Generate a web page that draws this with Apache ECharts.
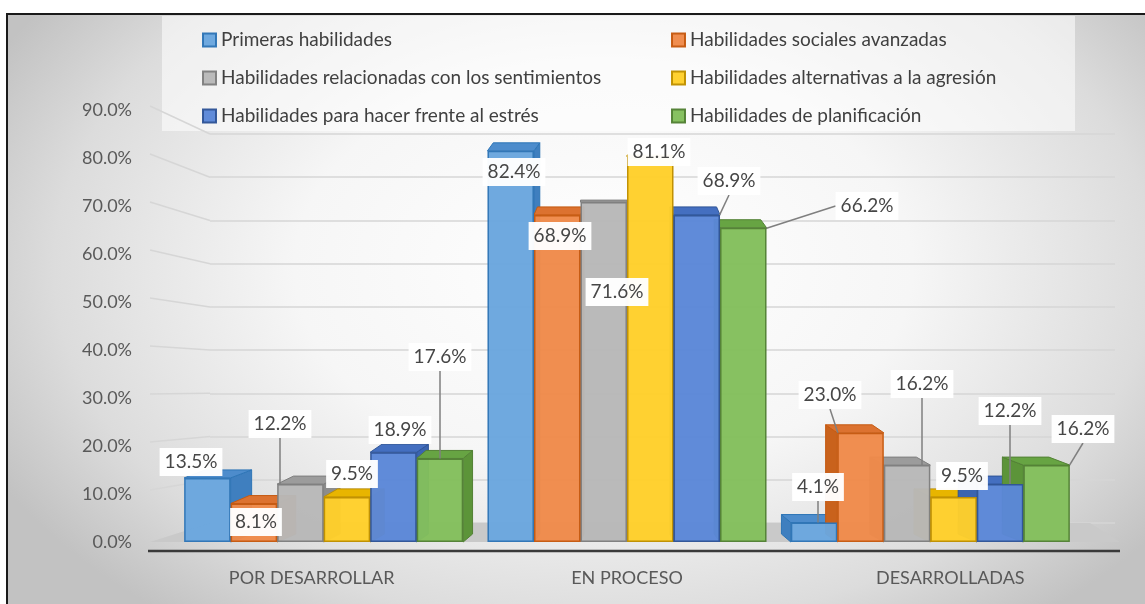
<!DOCTYPE html>
<html><head><meta charset="utf-8">
<script src="https://cdn.jsdelivr.net/npm/echarts@6.0.0/dist/echarts.min.js"></script>
<style>
html,body{margin:0;padding:0;background:#fff;width:1145px;height:604px;overflow:hidden;}
#frame{position:absolute;left:6px;top:13px;width:1145px;height:600px;border:2px solid #1a1a1a;border-right:none;border-bottom:none;
background:radial-gradient(ellipse 60% 75% at 52% 42%, #ffffff 0%, #f6f6f6 45%, #dcdcdc 80%, #c2c2c2 100%);}
#chart{position:absolute;left:0;top:0;width:1145px;height:604px;}
</style></head>
<body><div id="frame"></div><div id="chart"></div>
<script>
const categories = ['POR DESARROLLAR', 'EN PROCESO', 'DESARROLLADAS'];
const seriesNames = ['Primeras habilidades', 'Habilidades sociales avanzadas', 'Habilidades relacionadas con los sentimientos',
  'Habilidades alternativas a la agresión', 'Habilidades para hacer frente al estrés', 'Habilidades de planificación'];
const primeras = [13.5, 82.4, 4.1];
const sociales = [8.1, 68.9, 23.0];
const sentimientos = [12.2, 71.6, 16.2];
const alternativas = [9.5, 81.1, 9.5];
const estres = [18.9, 68.9, 12.2];
const planificacion = [17.6, 66.2, 16.2];
const yTicks = [0, 10, 20, 30, 40, 50, 60, 70, 80, 90];
const allValues = [primeras, sociales, sentimientos, alternativas, estres, planificacion];

// styles
const frontColors = ['#6aa6de', '#f08a4a', '#b8b8b8', '#ffcf2a', '#5b87d8', '#83bf5c'];
const borderColors = ['#2e75b6', '#c55a11', '#7f7f7f', '#bf9000', '#2f5597', '#538135'];
const sideColors = ['#3f7fbf', '#c9621c', '#8c8c8c', '#d9a400', '#3a64b0', '#5c9439'];
const topColors = ['#4d8ccc', '#dc7230', '#9c9c9c', '#e8b500', '#446fc0', '#67a443'];
// label placement (centres, px) and which labels carry a leader line
const labelCenters = [
  [[191, 462], [514, 172], [818, 487]],
  [[256, 522], [560, 236], [830, 395]],
  [[280, 424], [617, 292], [922, 384]],
  [[352, 474], [659, 152], [962, 476]],
  [[400, 430], [729, 181], [1010, 411]],
  [[440, 357], [867, 206], [1083, 429]]
];
const leaders = [[0,0,1],[0,0,1],[1,0,1],[0,0,0],[0,1,1],[1,1,1]];
const catLabelShift = [-12, 0, 20];

const GAP = 0.08, NS = 6, DEPTH = 8, PERSP = 0.05;
const FONT = 'Lato, "Open Sans", sans-serif';

const chart = echarts.init(document.getElementById('chart'));

const barSeries = allValues.map((vals, s) => ({
  name: seriesNames[s], type: 'bar', xAxisIndex: 0, yAxisIndex: 2,
  barGap: '0%', barCategoryGap: (GAP * 100) + '%', z: 3,
  itemStyle: { color: frontColors[s], borderColor: borderColors[s], borderWidth: 1.5, opacity: 0.97 },
  data: vals.map((v, i) => ({ value: v, labelLine: { show: !!leaders[s][i] } })),
  label: {
    show: true, position: 'top', formatter: p => p.value.toFixed(1) + '%',
    backgroundColor: '#ffffff', padding: [5, 5, 4, 5], color: '#404040', fontSize: 19, fontFamily: FONT
  },
  labelLine: { show: false, lineStyle: { color: '#7f7f7f', width: 1.5 } },
  labelLayout: p => {
    const c = labelCenters[s][p.dataIndex];
    return { x: c[0], y: c[1], align: 'center', verticalAlign: 'middle' };
  }
}));

const depthSeries = allValues.map((vals, s) => ({
  name: seriesNames[s], type: 'custom', xAxisIndex: 0, yAxisIndex: 2, silent: true, z: 2,
  data: vals.map((v, i) => [i, v]),
  renderItem: (params, api) => {
    const ci = api.value(0), v = api.value(1);
    const top = api.coord([ci, v]);
    const base = api.coord([ci, 0]);
    const band = api.size([1, 0])[0];
    const group = band * (1 - GAP), bw = group / NS;
    const x0 = top[0] - group / 2 + s * bw, x1 = x0 + bw;
    const mid = api.coord([1, 0])[0];
    let dx = (mid - (x0 + x1) / 2) * PERSP, dy = -DEPTH;
    const y0 = top[1], yb = base[1];
    const children = [];
    if (Math.abs(dx) < 3) { dx = 0; dy = -2; }
    const sideX = dx >= 0 ? x1 : x0;
    if (dx !== 0) {
      children.push({ type: 'polygon', shape: { points: [[sideX, y0], [sideX + dx, y0 + dy], [sideX + dx, yb + dy], [sideX, yb]] },
        style: { fill: sideColors[s], stroke: borderColors[s], lineWidth: 1 } });
    }
    children.push({ type: 'polygon', shape: { points: [[x0, y0], [x1, y0], [x1 + dx, y0 + dy], [x0 + dx, y0 + dy]] },
      style: { fill: topColors[s], stroke: borderColors[s], lineWidth: 1 } });
    return { type: 'group', children };
  }
}));

const legendCommon = {
  orient: 'vertical', icon: 'rect', itemWidth: 13, itemHeight: 13, itemGap: 16,
  textStyle: { fontSize: 19, fontFamily: FONT, color: '#404040', lineHeight: 22, padding: [0, 0, 0, 0] },
  selectedMode: false
};

const catRich = {};
catLabelShift.forEach((d, i) => {
  catRich['c' + i] = { fontSize: 18, fontFamily: FONT, color: '#595959', padding: d < 0 ? [0, -2 * d, 0, 0] : [0, 0, 0, 2 * d] };
});

chart.setOption({
  animation: false,
  backgroundColor: 'transparent',
  legend: [
    Object.assign({ left: 197, top: 24, data: [seriesNames[0], seriesNames[2], seriesNames[4]] }, legendCommon),
    Object.assign({ left: 666, top: 24, data: [seriesNames[1], seriesNames[3], seriesNames[5]] }, legendCommon)
  ],
  grid: [
    { left: 172, right: 63, top: 110, bottom: 62 },
    { left: 210, right: 30, top: 134, bottom: 81 }
  ],
  xAxis: [
    { type: 'category', gridIndex: 0, data: categories, axisLine: { show: false }, axisTick: { show: false },
      axisLabel: { margin: 27, fontSize: 18, fontFamily: FONT, color: '#595959',
        formatter: (v, i) => '{c' + i + '|' + v + '}', rich: catRich } },
    { type: 'category', gridIndex: 1, data: categories, show: false }
  ],
  yAxis: [
    { type: 'value', gridIndex: 0, min: yTicks[0], max: yTicks[yTicks.length - 1], interval: yTicks[1] - yTicks[0],
      splitLine: { show: false }, axisLine: { show: false }, axisTick: { show: false },
      axisLabel: { margin: 40, fontSize: 18, fontFamily: FONT, color: '#595959', formatter: v => v.toFixed(1) + '%' } },
    { type: 'value', gridIndex: 1, min: yTicks[0], max: yTicks[yTicks.length - 1], interval: yTicks[1] - yTicks[0],
      axisLabel: { show: false }, axisLine: { show: false }, axisTick: { show: false },
      splitLine: { show: true, lineStyle: { color: '#d6d6d6', width: 1.5 } } },
    // front-plane scale for the bars (perspective: slightly compressed vs. the labelled scale)
    { type: 'value', gridIndex: 0, min: 0, max: 91, show: false, splitLine: { show: false } }
  ],
  series: barSeries.concat(depthSeries)
});

// decorations: legend panel, slanted grid connectors, floor, axis line
const gfx = [];
gfx.push({ type: 'rect', z: -1, shape: { x: 162, y: 16, width: 913, height: 115 }, style: { fill: 'rgba(255,255,255,0.55)' } });
yTicks.forEach(t => {
  const f = chart.convertToPixel({ yAxisIndex: 0 }, t);
  const b = chart.convertToPixel({ yAxisIndex: 1 }, t);
  if (t > 0) gfx.push({ type: 'line', z: -1, shape: { x1: 150, y1: f - 4, x2: 210, y2: b }, style: { stroke: '#d6d6d6', lineWidth: 1.5 } });
});
const yf0 = chart.convertToPixel({ yAxisIndex: 0 }, 0);
const yb0 = chart.convertToPixel({ yAxisIndex: 1 }, 0);
gfx.push({ type: 'polygon', z: 0, shape: { points: [[210, yb0], [1090, yb0], [1120, yf0], [150, yf0]] }, style: { fill: '#c9c9c9' } });
gfx.push({ type: 'line', z: 1, shape: { x1: 148, y1: yf0 + 9, x2: 1120, y2: yf0 + 9 }, style: { stroke: '#3a3a3a', lineWidth: 2.5 } });
chart.setOption({ graphic: gfx });
</script></body></html>
